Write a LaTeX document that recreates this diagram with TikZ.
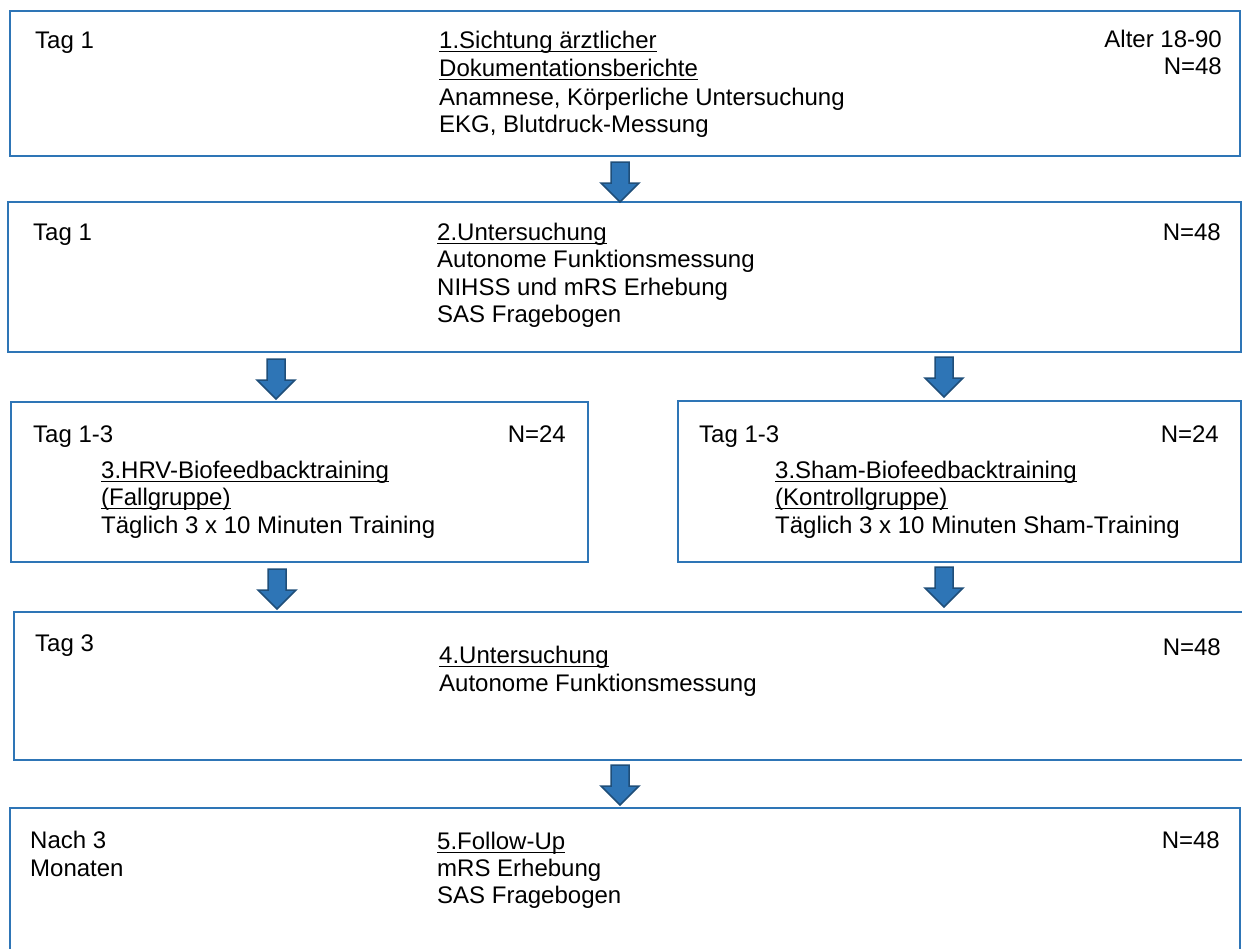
\documentclass[tikz,border=0pt]{standalone}
\usepackage{fontspec}
\setmainfont{Liberation Sans}
\definecolor{boxblue}{HTML}{2E75B6}
\definecolor{arrowedge}{HTML}{1F4E79}

\tikzset{
  stagebox/.style={draw=boxblue, line width=2.6pt, rectangle, inner sep=0pt},
  txt/.style={inner sep=0pt, anchor=base west, font=\fontsize{24}{28}\selectfont},
  txtr/.style={txt, anchor=base east},
  ul/.style={append after command={
    ([yshift=-3.5pt]\tikzlastnode.base west) edge[line width=1.6pt]
    ([yshift=-3.5pt]\tikzlastnode.base east)}},
  flowarrow/.pic={
    \draw[fill=boxblue, draw=arrowedge, line width=1.5pt, line join=miter]
      (-9,0) -- (9,0) -- (9,21) -- (19,21) -- (0,40) -- (-19,21) -- (-9,21) -- cycle;
  }
}

\begin{document}
\begin{tikzpicture}[x=1pt, y=-1pt]

  \useasboundingbox (0,0) rectangle (1242,948);
  \clip (0,0) rectangle (1242,948);

  % boxes
  \node[stagebox, minimum width=1230, minimum height=145] (intake) at (625,83.5) {};
  \node[stagebox, minimum width=1233, minimum height=150] (exam) at (624.5,277) {};
  \node[stagebox, minimum width=577, minimum height=160] (hrv) at (299.5,482) {};
  \node[stagebox, minimum width=563, minimum height=161] (sham) at (959.5,481.5) {};
  \node[stagebox, minimum width=1238, minimum height=148] (post) at (633,686) {};
  \node[stagebox, minimum width=1230, minimum height=154] (follow) at (625,885) {};

  % 1
  \node[txt] (intake-day) at (35,48) {Tag 1};
  \node[txt, ul] (intake-t1) at (439,48) {1.Sichtung ärztlicher};
  \node[txt, ul] (intake-t2) at (439,76) {Dokumentationsberichte};
  \node[txt] (intake-l1) at (439,105) {Anamnese, Körperliche Untersuchung};
  \node[txt] (intake-l2) at (439,132) {EKG, Blutdruck-Messung};
  \node[txtr] (intake-age) at (1222,47) {Alter 18-90};
  \node[txtr] (intake-n) at (1222,74) {N=48};

  % 2
  \node[txt] (exam-day) at (33,240) {Tag 1};
  \node[txt, ul] (exam-t1) at (437,240) {2.Untersuchung};
  \node[txt] (exam-l1) at (437,267) {Autonome Funktionsmessung};
  \node[txt] (exam-l2) at (437,295) {NIHSS und mRS Erhebung};
  \node[txt] (exam-l3) at (437,322) {SAS Fragebogen};
  \node[txtr] (exam-n) at (1221,240) {N=48};

  % 3
  \node[txt] (hrv-day) at (33,442) {Tag 1-3};
  \node[txtr] (hrv-n) at (566,442) {N=24};
  \node[txt, ul] (hrv-t1) at (101,478) {3.HRV-Biofeedbacktraining};
  \node[txt, ul] (hrv-t2) at (101,505) {(Fallgruppe)};
  \node[txt] (hrv-l1) at (101,533) {Täglich 3 x 10 Minuten Training};

  \node[txt] (sham-day) at (699,442) {Tag 1-3};
  \node[txtr] (sham-n) at (1219,442) {N=24};
  \node[txt, ul] (sham-t1) at (775,478) {3.Sham-Biofeedbacktraining};
  \node[txt, ul] (sham-t2) at (775,505) {(Kontrollgruppe)};
  \node[txt] (sham-l1) at (775,533) {Täglich 3 x 10 Minuten Sham-Training};

  % 4
  \node[txt] (post-day) at (35,651) {Tag 3};
  \node[txt, ul] (post-t1) at (439,663) {4.Untersuchung};
  \node[txt] (post-l1) at (439,691) {Autonome Funktionsmessung};
  \node[txtr] (post-n) at (1221,655) {N=48};

  % 5
  \node[txt] (follow-day1) at (30,848) {Nach 3};
  \node[txt] (follow-day2) at (30,876) {Monaten};
  \node[txt, ul] (follow-t1) at (437,849) {5.Follow-Up};
  \node[txt] (follow-l1) at (437,876) {mRS Erhebung};
  \node[txt] (follow-l2) at (437,903) {SAS Fragebogen};
  \node[txtr] (follow-n) at (1220,848) {N=48};

  % arrows
  \pic at (620,162) {flowarrow};
  \pic at (276,359) {flowarrow};
  \pic at (944,357) {flowarrow};
  \pic at (277,569) {flowarrow};
  \pic at (944,567) {flowarrow};
  \pic at (620,765) {flowarrow};

\end{tikzpicture}
\end{document}
